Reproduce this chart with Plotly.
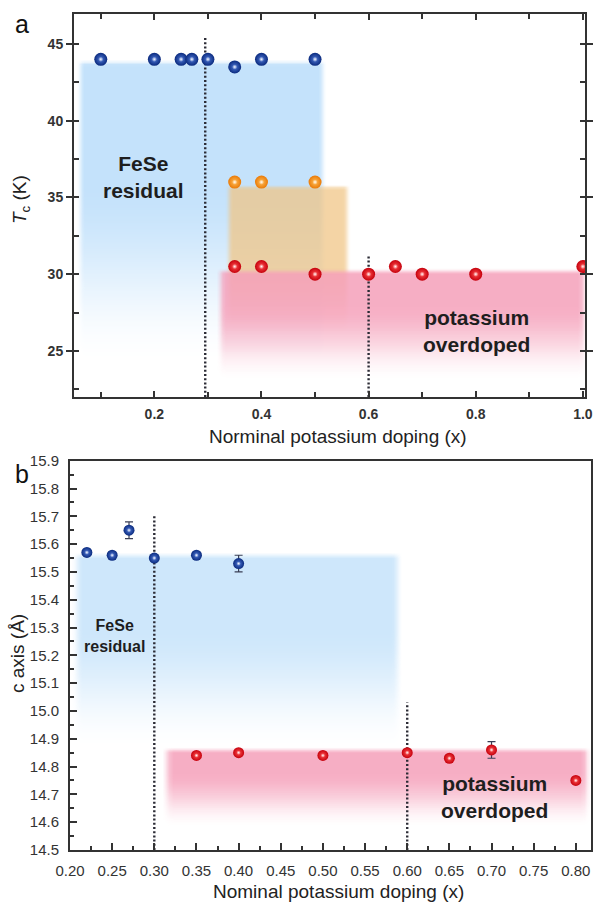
import numpy as np
import plotly.graph_objects as go

FONT = "Liberation Sans, Arial, Helvetica, sans-serif"

# ---------------- Panel a : Tc vs nominal K doping ----------------
a_blue_x = [0.10, 0.20, 0.25, 0.27, 0.30, 0.35, 0.40, 0.50]
a_blue_tc = [44.0, 44.0, 44.0, 44.0, 44.0, 43.5, 44.0, 44.0]
a_orange_x = [0.35, 0.40, 0.50]
a_orange_tc = [36.0, 36.0, 36.0]
a_red_x = [0.35, 0.40, 0.50, 0.60, 0.65, 0.70, 0.80, 1.00]
a_red_tc = [30.5, 30.5, 30.0, 30.0, 30.5, 30.0, 30.0, 30.5]

a_div_x = [0.295, 0.60]
a_div_top = [45.4, 31.2]

# phase regions (x-extent, top value, value where fading starts, value where fully faded)
a_region_x0 = [0.062, 0.338, 0.323]
a_region_x1 = [0.513, 0.558, 1.000]
a_region_top = [43.8, 35.7, 30.2]
a_region_solid = [36.0, 30.0, 28.0]
a_region_fade = [24.0, 26.0, 23.0]
a_region_rgb = [(196, 226, 251), (240, 196, 130), (245, 160, 186)]
a_region_alpha = [1.0, 0.72, 0.85]

# ---------------- Panel b : c axis vs nominal K doping ----------------
b_blue_x = [0.22, 0.25, 0.27, 0.30, 0.35, 0.40]
b_blue_c = [15.57, 15.56, 15.65, 15.55, 15.56, 15.53]
b_blue_err = [0, 0, 0.03, 0, 0, 0.03]
b_red_x = [0.35, 0.40, 0.50, 0.60, 0.65, 0.70, 0.80]
b_red_c = [14.84, 14.85, 14.84, 14.85, 14.83, 14.86, 14.75]
b_red_err = [0, 0, 0, 0, 0, 0.03, 0]

b_div_x = [0.30, 0.60]
b_div_top = [15.70, 15.03]

b_region_x0 = [0.208, 0.315]
b_region_x1 = [0.5875, 0.812]
b_region_top = [15.56, 14.86]
b_region_solid = [15.30, 14.78]
b_region_fade = [14.86, 14.58]
b_region_rgb = [(206, 231, 251), (245, 160, 186)]
b_region_alpha = [1.0, 0.85]

A_XRANGE = [0.05, 1.004]
A_YRANGE = [22.0, 46.95]
B_XRANGE = [0.2, 0.818]
B_YRANGE = [14.5, 15.9]

BLUE = ("#0a2a7e", "#4f78d6")
ORANGE = ("#ea7a06", "#ffbe5a")
RED = ("#c5000c", "#ff4f4f")

fig = go.Figure()


def smooth(t):
    t = np.clip(t, 0, 1)
    return t * t * (3 - 2 * t)


def add_region(x0, x1, top, solid, fade, rgb, amax, bx, by, xa, ya):
    xs = np.linspace(x0 - bx, x1 + bx, 120)
    ys = np.linspace(fade, top + by, 120)
    X, Y = np.meshgrid(xs, ys)
    hx = smooth((X - (x0 - bx)) / (2 * bx)) * smooth(((x1 + bx) - X) / (2 * bx))
    vtop = smooth(((top + by) - Y) / (2 * by))
    vbot = smooth((Y - fade) / (solid - fade))
    Z = hx * vtop * vbot
    r, g, b = rgb
    fig.add_trace(go.Heatmap(
        x=xs, y=ys, z=Z, zmin=0, zmax=1, zsmooth="best",
        colorscale=[[0, f"rgba({r},{g},{b},0)"], [1, f"rgba({r},{g},{b},{amax})"]],
        showscale=False, hoverinfo="skip", xaxis=xa, yaxis=ya))


def add_points(x, y, col, size, xa, ya, err=None):
    dark, light = col
    kw = {}
    if err is not None:
        kw["error_y"] = dict(type="data", array=err, color="#3a3f55",
                             thickness=1.2, width=4)
    fig.add_trace(go.Scatter(
        x=x, y=y, mode="markers", xaxis=xa, yaxis=ya, hoverinfo="skip",
        marker=dict(size=size, color=dark, line=dict(width=0),
                    gradient=dict(type="radial", color=light)), **kw))
    fig.add_trace(go.Scatter(
        x=x, y=y, mode="markers", xaxis=xa, yaxis=ya, hoverinfo="skip",
        marker=dict(size=size * 0.4, color="rgba(255,255,255,0)", line=dict(width=0),
                    gradient=dict(type="radial", color="rgba(255,255,255,0.95)"))))


def add_divider(xv, top, bottom, xa, ya):
    fig.add_trace(go.Scatter(
        x=[xv, xv], y=[bottom, top], mode="lines", xaxis=xa, yaxis=ya,
        hoverinfo="skip", line=dict(color="#2b2b35", width=2.4, dash="2px,2.2px")))


# panel a shading
for i in range(3):
    add_region(a_region_x0[i], a_region_x1[i], a_region_top[i], a_region_solid[i],
               a_region_fade[i], a_region_rgb[i], a_region_alpha[i], 0.008, 0.2, "x", "y")
# panel b shading
for i in range(2):
    add_region(b_region_x0[i], b_region_x1[i], b_region_top[i], b_region_solid[i],
               b_region_fade[i], b_region_rgb[i], b_region_alpha[i], 0.006, 0.012, "x2", "y2")

for xv, tp in zip(a_div_x, a_div_top):
    add_divider(xv, tp, A_YRANGE[0], "x", "y")
for xv, tp in zip(b_div_x, b_div_top):
    add_divider(xv, tp, B_YRANGE[0], "x2", "y2")

add_points(a_blue_x, a_blue_tc, BLUE, 13, "x", "y")
add_points(a_orange_x, a_orange_tc, ORANGE, 13, "x", "y")
add_points(a_red_x, a_red_tc, RED, 13, "x", "y")

add_points(b_blue_x, b_blue_c, BLUE, 11, "x2", "y2", b_blue_err)
add_points(b_red_x, b_red_c, RED, 11, "x2", "y2", b_red_err)

W, H = 593, 903
axis_common = dict(showgrid=False, zeroline=False, showline=True, linecolor="#333",
                   linewidth=2, ticks="inside", tickcolor="#333", tickwidth=1.6,
                   automargin=False)

fig.update_layout(
    width=W, height=H, margin=dict(l=0, r=0, t=0, b=0, pad=0), autosize=False,
    paper_bgcolor="white", plot_bgcolor="white", showlegend=False,
    font=dict(family=FONT, color="#222"),
    xaxis=dict(**axis_common, domain=[74 / W, 585 / W], anchor="y", range=A_XRANGE,
               tick0=0, dtick=0.2, tickformat=".1f", ticklen=6, mirror="allticks",
               minor=dict(dtick=0.1, ticklen=5, ticks="inside", tickcolor="#333"),
               tickfont=dict(family=FONT, size=14, weight="bold", color="#333"),
               ticklabelstandoff=3),
    yaxis=dict(**{**axis_common, "ticks": "outside"}, domain=[1 - 397 / H, 1 - 14 / H],
               anchor="x", range=A_YRANGE, tick0=0, dtick=5, ticklen=6, mirror="allticks",
               minor=dict(dtick=2.5, ticklen=5, ticks="inside", tickcolor="#333"),
               tickfont=dict(family=FONT, size=14, weight="bold", color="#333")),
    xaxis2=dict(**axis_common, domain=[70 / W, 591 / W], anchor="y2", range=B_XRANGE,
                tick0=0.2, dtick=0.05, tickformat=".2f", ticklen=7, mirror=True,
                minor=dict(dtick=0.025, ticklen=4, ticks="inside", tickcolor="#333"),
                tickfont=dict(family=FONT, size=15, color="#333"), ticklabelstandoff=6),
    yaxis2=dict(**axis_common, domain=[1 - 850 / H, 1 - 460.7 / H], anchor="x2",
                range=B_YRANGE, tick0=14.5, dtick=0.1, tickformat=".1f", ticklen=7,
                mirror=True,
                minor=dict(dtick=0.05, ticklen=4, ticks="inside", tickcolor="#333"),
                tickfont=dict(family=FONT, size=15, color="#333"), ticklabelstandoff=6),
)

C = dict(xanchor="center", yanchor="middle", showarrow=False)
ann = []
# region labels
ann.append(dict(x=0.18, y=36.3, xref="x", yref="y", text="FeSe<br>residual", **C,
                font=dict(family=FONT, size=21, weight="bold", color="#1e1e1e")))
ann.append(dict(x=0.802, y=26.3, xref="x", yref="y", text="potassium<br>overdoped", **C,
                font=dict(family=FONT, size=21, weight="bold", color="#1e1e1e")))
ann.append(dict(x=0.253, y=15.27, xref="x2", yref="y2", text="FeSe<br>residual", **C,
                font=dict(family=FONT, size=16, weight="bold", color="#1e1e1e")))
ann.append(dict(x=0.703, y=14.69, xref="x2", yref="y2", text="potassium<br>overdoped", **C,
                font=dict(family=FONT, size=21, weight="bold", color="#1e1e1e")))
# panel letters
ann.append(dict(x=22 / W, y=1 - 24 / H, xref="paper", yref="paper", text="a", **C,
                font=dict(family=FONT, size=25, color="#111")))
ann.append(dict(x=22 / W, y=1 - 474 / H, xref="paper", yref="paper", text="b", **C,
                font=dict(family=FONT, size=25, color="#111")))
# axis titles
ann.append(dict(x=338 / W, y=1 - 436 / H, xref="paper", yref="paper",
                text="Norminal potassium doping (x)", **C,
                font=dict(family=FONT, size=19, color="#222")))
ann.append(dict(x=21 / W, y=1 - 200 / H, xref="paper", yref="paper", textangle=-90,
                text="<i>T</i><sub>c</sub> (K)", **C,
                font=dict(family=FONT, size=19, color="#222")))
ann.append(dict(x=338 / W, y=1 - 891 / H, xref="paper", yref="paper",
                text="Nominal potassium doping (x)", **C,
                font=dict(family=FONT, size=19, color="#222")))
ann.append(dict(x=17 / W, y=1 - 654 / H, xref="paper", yref="paper", textangle=-90,
                text="c axis (Å)", **C,
                font=dict(family=FONT, size=19, color="#222")))
fig.update_layout(annotations=ann)

fig.write_html("out.html", config={"displayModeBar": False},
               post_script="document.body.style.margin='0';document.body.style.overflow='hidden';")
